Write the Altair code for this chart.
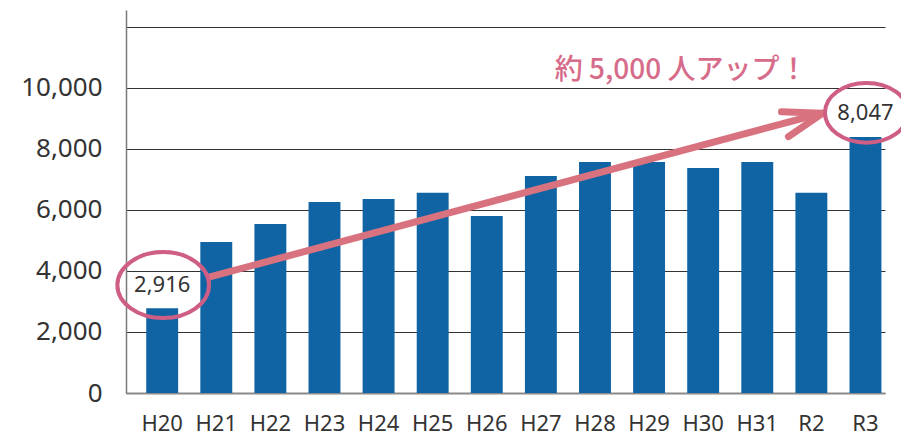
import altair as alt
import pandas as pd

# ---- data ----
years = ["H20", "H21", "H22", "H23", "H24", "H25", "H26", "H27", "H28", "H29", "H30", "H31", "R2", "R3"]
counts = [2780, 4950, 5540, 6260, 6360, 6560, 5800, 7110, 7570, 7570, 7370, 7570, 6560, 8390]
y_ticks = [0, 2000, 4000, 6000, 8000, 10000, 12000]

label_years = ["H20", "R3"]
label_texts = ["2,916", "8,047"]
label_y = [3535, 9180]

headline = "約 5,000 人アップ！"

df = pd.DataFrame({"year": years, "count": counts})

BLUE = "#1064A3"
PINK_LINE = "#D9727F"
PINK_RING = "#CF5E84"
PINK_TEXT = "#D66C8A"

x_scale = alt.Scale(domain=years, paddingInner=0.41, paddingOuter=0.22, align=0.85)
y_scale = alt.Scale(domain=[0, 12550], nice=False, zero=True)


def X(field):
    return alt.X(field, type="nominal", scale=x_scale, sort=years, title=None)


def Y(field):
    return alt.Y(field, type="quantitative", scale=y_scale, title=None)


bars = alt.Chart(df).mark_bar(color=BLUE).encode(
    x=alt.X("year:N", scale=x_scale, sort=years, title=None,
            axis=alt.Axis(labelAngle=0, labelFontSize=22, labelFont="Noto Sans",
                          labelColor="#333333", labelPadding=20, ticks=False,
                          domainColor="#8a8a8a", domainWidth=2, grid=False)),
    y=alt.Y("count:Q", scale=y_scale, title=None,
            axis=alt.Axis(values=y_ticks, labelFontSize=26, labelFont="Noto Sans",
                          labelColor="#333333", labelPadding=24, ticks=False,
                          labelExpr="datum.value >= 12000 ? '' : format(datum.value, ',')",
                          domainColor="#7a7a7a", domainWidth=1.5,
                          grid=True, gridColor="#333333", gridWidth=1)),
)

# arrow shaft
shaft_df = pd.DataFrame({"year": ["H20"], "year2": ["R3"], "count": [3774], "count2": [9150]})
shaft = alt.Chart(shaft_df).mark_rule(
    color=PINK_LINE, strokeWidth=7, xOffset=44, x2Offset=-46, strokeCap="butt"
).encode(
    x=X("year"), x2="year2:N", y=Y("count"), y2="count2:Q",
)

# arrow head wings
wing_df = pd.DataFrame({"year": ["R3", "R3"], "count": [9165, 9165], "count2": [9215, 8400]})
wing1 = alt.Chart(wing_df.iloc[[0]]).mark_rule(
    color=PINK_LINE, strokeWidth=7, xOffset=-43, x2Offset=-84, strokeCap="round"
).encode(
    x=X("year"), x2="year:N", y=Y("count"), y2="count2:Q",
)
wing2 = alt.Chart(wing_df.iloc[[1]]).mark_rule(
    color=PINK_LINE, strokeWidth=7, xOffset=-43, x2Offset=-77, strokeCap="round"
).encode(
    x=X("year"), x2="year:N", y=Y("count"), y2="count2:Q",
)

ellipse_path = "M-1,0 A1,0.72 0 1,1 1,0 A1,0.72 0 1,1 -1,0 Z"

lab_df = pd.DataFrame({"year": label_years, "text": label_texts, "count": label_y})

ring1 = alt.Chart(lab_df.iloc[[0]]).mark_point(
    shape=ellipse_path, size=8400, filled=False, stroke=PINK_RING, strokeWidth=4,
    opacity=1, xOffset=1
).encode(x=X("year"), y=Y("count"))
ring2 = alt.Chart(lab_df.iloc[[1]]).mark_point(
    shape=ellipse_path, size=6900, filled=False, stroke=PINK_RING, strokeWidth=4,
    opacity=1, xOffset=1
).encode(x=X("year"), y=Y("count"))

labels = alt.Chart(lab_df).mark_text(
    font="Noto Sans", fontSize=22, color="#333333", baseline="middle", align="center"
).encode(x=X("year"), y=Y("count"), text="text:N")

head_df = pd.DataFrame({"year": ["H29"], "count": [10550], "text": [headline]})
head = alt.Chart(head_df).mark_text(
    font="Noto Sans CJK JP", fontSize=28, fontWeight=500, color=PINK_TEXT,
    baseline="middle", align="center", dx=32
).encode(x=X("year"), y=Y("count"), text="text:N")

chart = alt.layer(bars, shaft, wing1, wing2, ring1, ring2, labels, head).properties(
    width=759,
    height=383,
    background="white",
    autosize=alt.AutoSizeParams(type="none"),
    padding={"left": 118, "top": 2, "right": 16, "bottom": 42},
).configure_view(stroke=None)

chart.save("out.html", embed_options={"renderer": "svg", "actions": False})
